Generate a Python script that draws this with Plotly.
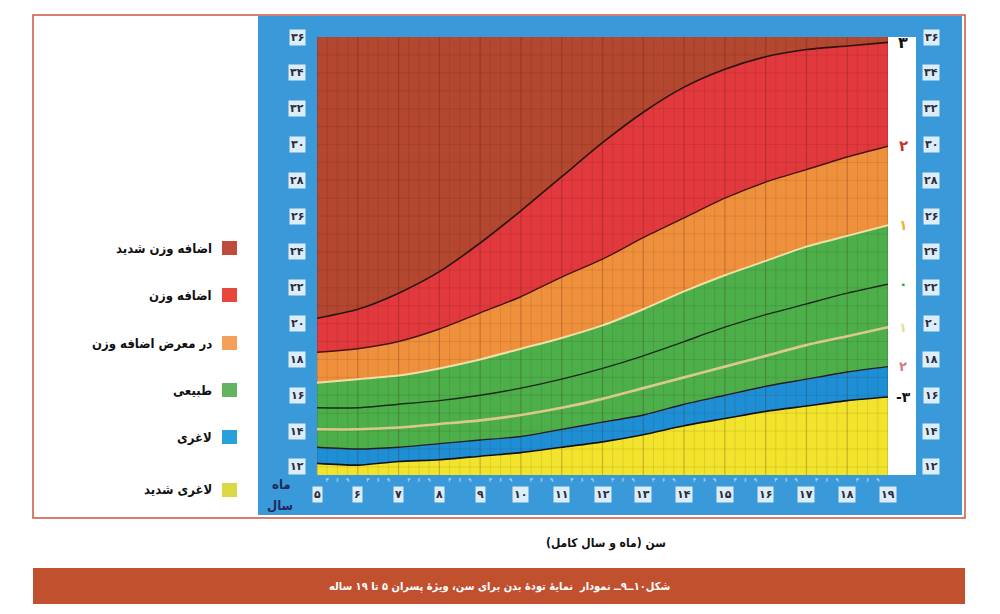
import plotly.graph_objects as go

# ages in full years (x axis), BMI values for each z-score curve
ages = [5, 6, 7, 8, 9, 10, 11, 12, 13, 14, 15, 16, 17, 18, 19]
plus3 = [20.3, 20.8, 21.7, 22.9, 24.5, 26.3, 28.2, 30.1, 31.8, 33.2, 34.2, 34.9, 35.3, 35.5, 35.7]
plus2 = [18.4, 18.6, 19.0, 19.7, 20.6, 21.5, 22.6, 23.6, 24.8, 25.9, 27.0, 27.9, 28.6, 29.3, 29.9]
plus1 = [16.7, 16.9, 17.1, 17.5, 18.0, 18.6, 19.2, 19.9, 20.8, 21.8, 22.7, 23.5, 24.3, 24.9, 25.5]
median = [15.3, 15.3, 15.5, 15.7, 16.0, 16.4, 16.9, 17.5, 18.2, 19.0, 19.8, 20.5, 21.1, 21.7, 22.2]
minus1 = [14.1, 14.1, 14.2, 14.4, 14.6, 14.9, 15.3, 15.8, 16.4, 17.0, 17.6, 18.2, 18.8, 19.3, 19.8]
minus2 = [13.1, 13.0, 13.1, 13.3, 13.5, 13.7, 14.1, 14.5, 14.9, 15.5, 16.0, 16.5, 16.9, 17.3, 17.6]
minus3 = [12.2, 12.1, 12.3, 12.4, 12.6, 12.8, 13.1, 13.4, 13.8, 14.3, 14.7, 15.1, 15.4, 15.7, 15.9]

y_ticks = [12, 14, 16, 18, 20, 22, 24, 26, 28, 30, 32, 34, 36]
month_ticks = [3, 6, 9]

legend_labels = ["اضافه وزن شدید", "اضافه وزن", "در معرض اضافه وزن", "طبیعی", "لاغری", "لاغری شدید"]
legend_colors = ["#bf4b3c", "#e8483c", "#f3a05a", "#62b45f", "#28a0dc", "#dcd746"]

FONT = "DejaVu Sans"
FONT_C = "DejaVu Sans Condensed, DejaVu Sans"


def fa(n):
    # persian digits
    return str(n).translate(str.maketrans("0123456789", "۰۱۲۳۴۵۶۷۸۹"))


# the page body has an 8px margin, so the figure is drawn 8px smaller
OFF = 8
W, H = 1000 - OFF, 614 - OFF

# plot area in page pixels, used to place the decorations around it
PL, PR, PT, PB = 317, 888, 37, 475


def px(x):
    return (x - PL) / (PR - PL)


def py(y):
    return (PB - y) / (PB - PT)


fig = go.Figure()

# coloured bands
top = [y_ticks[-1] + 2 for a in ages]
bands = [
    (minus3, "tozeroy", "#f2e42c"),
    (minus2, "tonexty", "#1f8fd5"),
    (plus1, "tonexty", "#4caf4a"),
    (plus2, "tonexty", "#ef913c"),
    (plus3, "tonexty", "#e1393d"),
    (top, "tonexty", "#b3472f"),
]
for vals, fill, col in bands:
    fig.add_trace(go.Scatter(x=ages, y=vals, mode="lines", fill=fill, fillcolor=col,
                             line=dict(width=0, shape="spline", smoothing=0.7),
                             hoverinfo="skip", showlegend=False))

# fine grid over the bands
gx, gy = [], []
for a in ages[:-1]:
    for k in (0.25, 0.5, 0.75):
        gx += [a + k, a + k, None]
        gy += [0, 40, None]
for v in range(12, 36):
    gx += [ages[0], ages[-1], None]
    gy += [v, v, None]
fig.add_trace(go.Scatter(x=gx, y=gy, mode="lines", line=dict(color="rgba(60,20,10,0.10)", width=1),
                         hoverinfo="skip", showlegend=False))
yx, yy = [], []
for a in ages:
    yx += [a, a, None]
    yy += [0, 40, None]
fig.add_trace(go.Scatter(x=yx, y=yy, mode="lines", line=dict(color="rgba(70,25,15,0.25)", width=1.2),
                         hoverinfo="skip", showlegend=False))

# z-score curves
curves = [
    (plus3, "#2a160e", 1.6),
    (plus2, "#4a1410", 1.4),
    (plus1, "#efe0a8", 2.0),
    (median, "#1e2a18", 1.4),
    (minus1, "#d9c98f", 2.6),
    (minus2, "#2a1e22", 1.4),
    (minus3, "#15121a", 1.6),
]
for vals, col, w in curves:
    fig.add_trace(go.Scatter(x=ages, y=vals, mode="lines",
                             line=dict(color=col, width=w, shape="spline", smoothing=0.7),
                             hoverinfo="skip", showlegend=False))

# invisible trace to carry the month axis
fig.add_trace(go.Scatter(x=ages, y=minus3, xaxis="x2", mode="lines", line=dict(width=0),
                         hoverinfo="skip", showlegend=False))

month_vals = [a + m / 12 for a in ages[:-1] for m in month_ticks]
month_text = [fa(m) for a in ages[:-1] for m in month_ticks]

fig.update_layout(
    width=W, height=H, autosize=False,
    margin=dict(l=PL - OFF, r=W - (PR - OFF), t=PT - OFF, b=H - (PB - OFF)),
    paper_bgcolor="white",
    plot_bgcolor="#b3472f",
    xaxis=dict(range=[ages[0], ages[-1]], tickvals=ages, showticklabels=False,
               showgrid=False, zeroline=False, ticks="", fixedrange=True),
    xaxis2=dict(overlaying="x", side="bottom", anchor="y", range=[ages[0], ages[-1]],
                tickvals=month_vals, ticktext=month_text, showgrid=False, zeroline=False,
                ticks="", tickfont=dict(family=FONT, size=6, color="#d8e6f3"),
                ticklabelstandoff=0),
    yaxis=dict(range=[11.55, 36], tickvals=y_ticks, showticklabels=False,
               showgrid=False, zeroline=False, ticks="", fixedrange=True),
    yaxis2=dict(overlaying="y", side="right", anchor="x", range=[11.55, 36], tickvals=y_ticks,
                showticklabels=False, showgrid=False, zeroline=False,
                ticks="outside", ticklen=27, tickcolor="#b8b8b8", tickwidth=1),
)

shapes = [
    # blue panel behind the chart
    dict(type="rect", xref="paper", yref="paper", x0=px(258), x1=px(962), y0=py(515), y1=py(16),
         fillcolor="#3a9ad9", line=dict(width=0), layer="below"),
    # white strip with the z-score labels
    dict(type="rect", xref="paper", yref="paper", x0=px(888), x1=px(916), y0=0, y1=1,
         fillcolor="white", line=dict(width=0), layer="below"),
    # outer frame
    dict(type="rect", xref="paper", yref="paper", x0=px(33), x1=px(965), y0=py(518), y1=py(15),
         fillcolor="rgba(0,0,0,0)", line=dict(color="#c8553d", width=1.5), layer="above"),
    # caption bar
    dict(type="rect", xref="paper", yref="paper", x0=px(33), x1=px(965), y0=py(604), y1=py(568),
         fillcolor="#c1502e", line=dict(width=0), layer="above"),
]

annotations = []

# tick labels on white blobs, as in the printed chart
blob = dict(showarrow=False, xanchor="center", yanchor="middle",
            bgcolor="rgba(255,255,255,0.82)", borderpad=1,
            font=dict(family=FONT, size=11, color="#2a2a3a", weight="bold"))
for v in y_ticks:
    annotations.append(dict(xref="paper", yref="y", x=px(297), y=v, text=fa(v), **blob))
    annotations.append(dict(xref="paper", yref="y", x=px(931), y=v, text=fa(v), **blob))
for a in ages:
    annotations.append(dict(xref="x", yref="paper", x=a, y=py(494), text=fa(a), **blob))

legend_y = [248, 295, 343, 390, 437, 490]
for lab, col, yy in zip(legend_labels, legend_colors, legend_y):
    shapes.append(dict(type="rect", xref="paper", yref="paper", x0=px(222), x1=px(237),
                       y0=py(yy + 7), y1=py(yy - 7), fillcolor=col, line=dict(width=0)))
    annotations.append(dict(xref="paper", yref="paper", x=px(214), y=py(yy), text=lab,
                            xanchor="right", yanchor="middle", showarrow=False,
                            font=dict(family=FONT_C, size=13, color="#111111", weight="bold")))

# z-score labels in the white strip, at the end of each curve
zlabels = [
    (plus3, "۳", "#111111", 16),
    (plus2, "۲", "#c8322c", 15),
    (plus1, "۱", "#e6b635", 14),
    (median, "۰", "#3a9a3a", 14),
    (minus1, "۱", "#e4dca0", 13),
    (minus2, "۲", "#d77a7a", 13),
    (minus3, "-۳", "#111111", 14),
]
for vals, t, col, s in zlabels:
    annotations.append(dict(xref="paper", yref="y", x=px(903), y=vals[-1], text=t,
                            showarrow=False, xanchor="center", yanchor="middle",
                            font=dict(family=FONT, size=s, color=col, weight="bold")))

center = dict(showarrow=False, xanchor="center", yanchor="middle")
annotations += [
    dict(xref="paper", yref="paper", x=px(281), y=py(484), text="ماه",
         font=dict(family=FONT_C, size=13, color="#1e2a5e", weight="bold"), **center),
    dict(xref="paper", yref="paper", x=px(280), y=py(505), text="سال",
         font=dict(family=FONT_C, size=13, color="#1e2a5e", weight="bold"), **center),
    dict(xref="paper", yref="paper", x=px(606), y=py(543), text="سن (ماه و سال کامل)",
         font=dict(family=FONT_C, size=12, color="#111111", weight="bold"), **center),
    dict(xref="paper", yref="paper", x=px(499), y=py(586),
         text="شکل۱۰ــ۹ــ نمودار  نمایهٔ تودهٔ بدن برای سن، ویژهٔ پسران ۵ تا ۱۹ ساله",
         font=dict(family=FONT_C, size=11, color="white", weight="bold"), **center),
]

fig.update_layout(shapes=shapes, annotations=annotations)

fig.write_html("out.html", config={"displayModeBar": False})
